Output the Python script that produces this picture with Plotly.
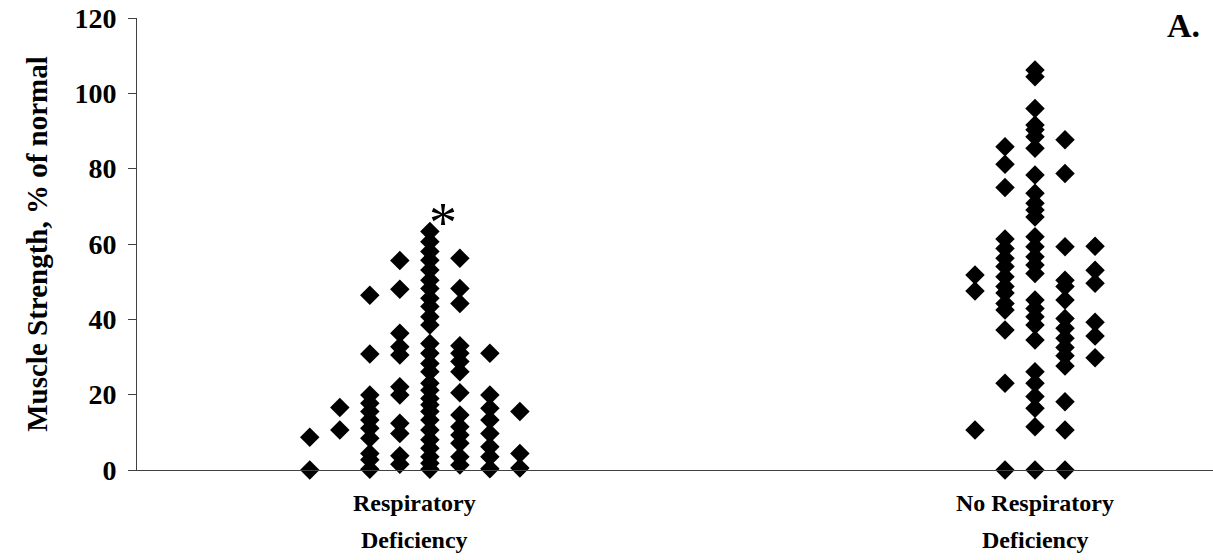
import plotly.graph_objects as go

# Muscle strength (% of normal), one list per dot column, left to right
resp_deficiency = [
    [0.0, 8.7],
    [10.6, 16.6],
    [0.2, 2.7, 4.4, 8.4, 11.1, 13.3, 15.5, 17.7, 19.9, 30.8, 46.4],
    [1.5, 3.8, 9.7, 12.4, 19.9, 22.1, 30.5, 32.7, 36.3, 48.0, 55.6],
    [0.2, 1.8, 3.5, 5.8, 8.0, 10.6, 13.3, 15.5, 17.3, 19.0, 21.2, 23.0, 26.1,
     28.3, 31.0, 33.6, 38.5, 40.7, 43.4, 45.6, 48.2, 50.4, 53.1, 55.7, 58.0,
     60.6, 63.3],
    [1.3, 3.5, 7.1, 9.3, 11.5, 14.6, 20.5, 26.1, 28.8, 31.0, 33.0, 44.2, 48.2, 56.2],
    [0.3, 3.5, 6.2, 9.7, 13.3, 16.4, 19.9, 31.0],
    [0.5, 4.4, 15.5],
]

no_resp_deficiency = [
    [10.6, 47.5, 51.8],
    [0.0, 23.0, 37.2, 42.5, 44.2, 47.0, 48.7, 51.3, 54.0, 56.2, 58.8, 61.3,
     75.0, 81.2, 85.8],
    [0.0, 11.5, 16.4, 19.5, 23.0, 26.1, 34.5, 38.5, 40.7, 42.9, 45.1, 52.2,
     54.4, 56.6, 59.3, 61.9, 67.2, 69.0, 70.8, 73.5, 78.3, 85.4, 88.5, 90.3,
     91.6, 96.0, 104.4, 106.2],
    [0.0, 10.6, 18.1, 27.6, 30.3, 32.5, 35.0, 37.6, 40.2, 45.1, 48.7, 50.4,
     59.3, 78.7, 87.7],
    [29.8, 35.6, 39.2, 49.6, 53.0, 59.4],
]

# two-line group labels under the axis
category_lines = [("Respiratory", "Deficiency"), ("No Respiratory", "Deficiency")]
category_pos = [1, 2]
y_ticks = [0, 20, 40, 60, 80, 100, 120]

COL_STEP = 0.0484  # horizontal spacing between dot columns

SERIF = "Liberation Serif, Times New Roman, serif"


def spread(columns, center):
    xs, ys = [], []
    n = len(columns)
    for i, col in enumerate(columns):
        off = (i - (n - 1) / 2) * COL_STEP
        for v in col:
            xs.append(center + off)
            ys.append(v)
    return xs, ys


fig = go.Figure()
for cols, c in ((resp_deficiency, category_pos[0]), (no_resp_deficiency, category_pos[1])):
    xs, ys = spread(cols, c)
    fig.add_trace(go.Scatter(
        x=xs, y=ys, mode="markers", cliponaxis=False, showlegend=False,
        marker=dict(symbol="diamond", size=15, color="black", line=dict(width=0)),
    ))

# significance mark beside the top of the tallest column of the first group
top_col = max(resp_deficiency, key=len)
top_idx = resp_deficiency.index(top_col)
star_x = category_pos[0] + (top_idx - (len(resp_deficiency) - 1) / 2) * COL_STEP
fig.add_annotation(
    x=star_x, y=max(top_col), xref="x", yref="y", text="*", showarrow=False,
    xshift=13, yshift=-24, yanchor="bottom",
    font=dict(family=SERIF, size=56, color="black"),
)

# panel letter
fig.add_annotation(
    x=1.0, y=1.0, xref="paper", yref="paper", xanchor="right", yanchor="bottom",
    text="<b>A.</b>", showarrow=False, xshift=-11, yshift=-28,
    font=dict(family=SERIF, size=34, color="black"),
)

# category labels, one annotation per text line
label_font = dict(family=SERIF, size=24, color="black", weight="bold")
for pos, lines in zip(category_pos, category_lines):
    for k, line in enumerate(lines):
        fig.add_annotation(
            x=pos, y=0, xref="x", yref="paper", text=line, showarrow=False,
            xanchor="center", yanchor="middle", yshift=-33 - 37 * k,
            font=label_font,
        )

axis_line = "#404040"
fig.update_layout(
    width=1213, height=560,
    margin=dict(l=137, r=0, t=18, b=90),
    paper_bgcolor="white", plot_bgcolor="white",
    font=dict(family=SERIF, color="black"),
    xaxis=dict(
        range=[0.552, 2.287], showgrid=False, zeroline=False,
        showline=True, linecolor=axis_line, linewidth=1,
        showticklabels=False, ticks="",
    ),
    yaxis=dict(
        range=[0, 120], showgrid=False, zeroline=False,
        showline=True, linecolor=axis_line, linewidth=1,
        tickmode="array", tickvals=y_ticks,
        ticks="outside", ticklen=8, tickcolor=axis_line, ticklabelstandoff=6,
        tickfont=dict(family=SERIF, size=28, color="black", weight="bold"),
        title=dict(text="<b>Muscle Strength, % of normal</b>", standoff=18,
                   font=dict(family=SERIF, size=29, color="black")),
    ),
)

fig.write_html("out.html")
